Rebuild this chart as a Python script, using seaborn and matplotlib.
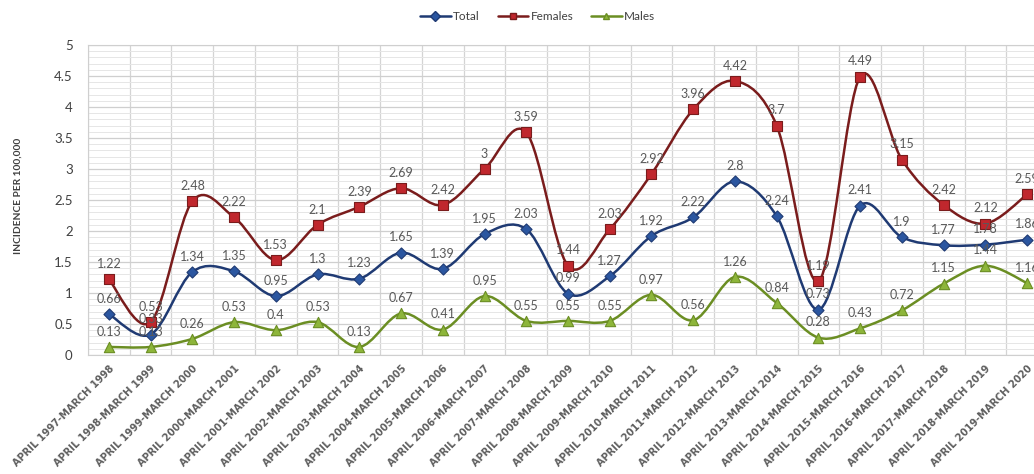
import numpy as np
import pandas as pd
import seaborn as sns
import matplotlib.pyplot as plt
from matplotlib.path import Path
from matplotlib.patches import PathPatch
from matplotlib.lines import Line2D

periods = [f"APRIL {y}-MARCH {y + 1}" for y in range(1997, 2020)]
total = [0.66, 0.33, 1.34, 1.35, 0.95, 1.3, 1.23, 1.65, 1.39, 1.95, 2.03, 0.99,
         1.27, 1.92, 2.22, 2.8, 2.24, 0.73, 2.41, 1.9, 1.77, 1.78, 1.86]
females = [1.22, 0.53, 2.48, 2.22, 1.53, 2.1, 2.39, 2.69, 2.42, 3, 3.59, 1.44,
           2.03, 2.92, 3.96, 4.42, 3.7, 1.19, 4.49, 3.15, 2.42, 2.12, 2.59]
males = [0.13, 0.13, 0.26, 0.53, 0.4, 0.53, 0.13, 0.67, 0.41, 0.95, 0.55, 0.55,
         0.55, 0.97, 0.56, 1.26, 0.84, 0.28, 0.43, 0.72, 1.15, 1.44, 1.16]

df = pd.DataFrame({"idx": range(len(periods)), "period": periods,
                   "Total": total, "Females": females, "Males": males})

sns.set_style("white")
plt.rcParams['font.family'] = ['Lato', 'DejaVu Sans']

# name: (line colour, marker face, marker, size)
styles = {
    "Total": ("#1F3A73", "#2B56A0", "D", 32),
    "Females": ("#7A1C1C", "#C0272D", "s", 55),
    "Males": ("#6B8E23", "#8DB53A", "^", 55),
}


def smooth_path(xs, ys):
    # excel-like smoothed line: cubic bezier through the points
    n = len(xs)
    verts = [(xs[0], ys[0])]
    codes = [Path.MOVETO]
    for i in range(n - 1):
        a = max(i - 1, 0)
        b = min(i + 2, n - 1)
        c1 = (xs[i] + (xs[i + 1] - xs[a]) / 6, ys[i] + (ys[i + 1] - ys[a]) / 6)
        c2 = (xs[i + 1] - (xs[b] - xs[i]) / 6, ys[i + 1] - (ys[b] - ys[i]) / 6)
        verts += [c1, c2, (xs[i + 1], ys[i + 1])]
        codes += [Path.CURVE4] * 3
    return Path(verts, codes)


fig = plt.figure(figsize=(10.34, 4.74), dpi=100)
ax = fig.add_axes([88 / 1034, 119 / 474, 960 / 1034, 310 / 474])

handles = []
for name, (lc, mc, mk, sz) in styles.items():
    xs = df["idx"].to_numpy(dtype=float)
    ys = df[name].to_numpy(dtype=float)
    ax.add_patch(PathPatch(smooth_path(xs, ys), facecolor="none", edgecolor=lc,
                           lw=1.8, zorder=3))
    sns.scatterplot(data=df, x="idx", y=name, marker=mk, s=sz, color=mc,
                    edgecolor=lc, linewidth=0.8, zorder=4, ax=ax, legend=False)
    for x, y in zip(xs, ys):
        ax.annotate(f"{y:g}", (x, y), xytext=(0, 11), textcoords="offset points",
                    ha="center", va="center", fontsize=9, color="#595959", zorder=5)
    handles.append(Line2D([], [], color=lc, lw=1.8, marker=mk, markersize=5,
                          markerfacecolor=mc, markeredgecolor=lc, label=name))

ax.set_xlim(-0.5, len(periods) - 0.5)
ax.set_ylim(0, 5)
ax.set_yticks(np.arange(0, 5.01, 0.5))
ax.set_yticks(np.arange(0, 5.01, 0.1), minor=True)
ax.set_yticklabels([f"{v:g}" for v in np.arange(0, 5.01, 0.5)], fontsize=9.5,
                   color="#404040")
ax.set_xticks(df["idx"])
ax.set_xticks(np.arange(-0.5, len(periods), 1), minor=True)
ax.set_xticklabels(periods, rotation=45, ha="right", rotation_mode="anchor",
                   fontsize=7.1, fontweight="bold", color="#5E5E5E",
                   family="DejaVu Sans")
ax.tick_params(which="both", length=0)
ax.tick_params(axis="y", pad=11)
ax.tick_params(axis="x", pad=6)

ax.yaxis.grid(True, which="major", color="#CFCFCF", lw=0.9)
ax.yaxis.grid(True, which="minor", color="#E6E6E6", lw=0.7)
ax.xaxis.grid(True, which="minor", color="#D4D4D4", lw=0.9)
ax.xaxis.grid(False, which="major")
ax.set_axisbelow(True)
for sp in ax.spines.values():
    sp.set_color("#CFCFCF")
ax.set_xlabel("")
ax.set_ylabel("")

fig.text(18 / 1034, 1 - 196 / 474, "INCIDENCE PER 100,000", rotation=90,
         ha="center", va="center", fontsize=7.3, fontweight="bold", color="#404040")

fig.legend(handles=handles, loc="center", bbox_to_anchor=(0.52, 1 - 17 / 474),
           ncol=3, frameon=False, fontsize=8.5, handlelength=2.6, columnspacing=1.5,
           handletextpad=0.2, labelcolor="#404040")

fig.savefig("out.png", dpi=100)
